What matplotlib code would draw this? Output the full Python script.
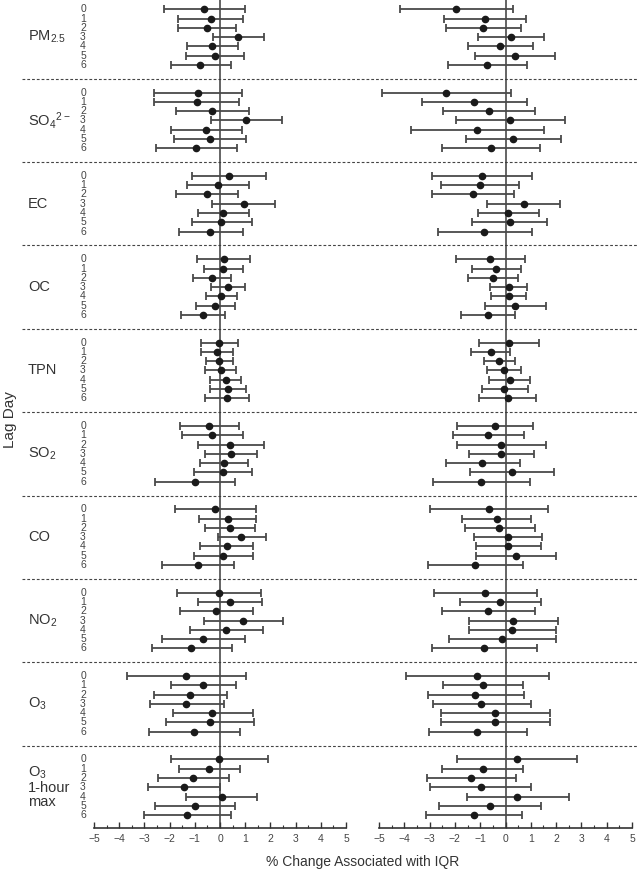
import matplotlib
matplotlib.use("Agg")
import numpy as np
import matplotlib.pyplot as plt
from matplotlib.transforms import blended_transform_factory
from matplotlib.ticker import MultipleLocator

plt.rcParams['font.family'] = ['Liberation Sans', 'DejaVu Sans']
plt.rcParams['mathtext.default'] = 'regular'

pollutants = [r'PM$_{2.5}$', r'SO$_4$$^{2-}$', 'EC', 'OC', 'TPN',
              r'SO$_2$', 'CO', r'NO$_2$', r'O$_3$', 'O$_3$\n1-hour\nmax']
lags = [0, 1, 2, 3, 4, 5, 6]

# left panel: estimate, lower, upper (one row per pollutant, lags 0..6)
left_est = [
    [-0.64, -0.37, -0.51, 0.71, -0.30, -0.21, -0.79],
    [-0.87, -0.92, -0.30, 1.05, -0.54, -0.41, -0.96],
    [0.37, -0.07, -0.52, 0.94, 0.10, 0.05, -0.38],
    [0.14, 0.13, -0.33, 0.30, 0.04, -0.18, -0.68],
    [-0.03, -0.12, -0.03, 0.03, 0.24, 0.31, 0.29],
    [-0.42, -0.31, 0.41, 0.42, 0.14, 0.10, -1.01],
    [-0.18, 0.30, 0.38, 0.85, 0.26, 0.12, -0.89],
    [-0.03, 0.38, -0.14, 0.93, 0.24, -0.67, -1.14],
    [-1.35, -0.66, -1.19, -1.33, -0.30, -0.41, -1.02],
    [-0.03, -0.42, -1.06, -1.43, 0.09, -0.98, -1.30],
]
left_lo = [
    [-2.24, -1.65, -1.65, -0.28, -1.31, -1.36, -1.94],
    [-2.60, -2.60, -1.73, -0.34, -1.93, -1.84, -2.53],
    [-1.12, -1.29, -1.73, -0.30, -0.89, -1.13, -1.64],
    [-0.92, -0.64, -1.08, -0.37, -0.56, -0.96, -1.55],
    [-0.76, -0.75, -0.55, -0.58, -0.39, -0.41, -0.59],
    [-1.57, -1.52, -0.89, -0.60, -0.81, -1.05, -2.57],
    [-1.78, -0.83, -0.60, -0.09, -0.79, -1.04, -2.32],
    [-1.69, -0.89, -1.57, -0.62, -1.21, -2.30, -2.70],
    [-3.71, -1.93, -2.62, -2.77, -1.88, -2.15, -2.82],
    [-1.93, -1.64, -2.45, -2.85, -1.33, -2.57, -3.00],
]
left_hi = [
    [0.98, 0.93, 0.63, 1.73, 0.72, 0.96, 0.42],
    [0.89, 0.76, 1.15, 2.47, 0.89, 1.05, 0.67],
    [1.84, 1.17, 0.70, 2.18, 1.14, 1.26, 0.91],
    [1.19, 0.92, 0.42, 1.00, 0.67, 0.59, 0.21],
    [0.72, 0.51, 0.51, 0.64, 0.85, 1.05, 1.15],
    [0.76, 0.93, 1.73, 1.46, 1.10, 1.27, 0.58],
    [1.43, 1.44, 1.39, 1.82, 1.30, 1.30, 0.56],
    [1.64, 1.67, 1.30, 2.49, 1.69, 0.98, 0.47],
    [1.02, 0.64, 0.26, 0.14, 1.30, 1.35, 0.79],
    [1.92, 0.81, 0.34, 0.00, 1.48, 0.59, 0.45],
]

# right panel
right_est = [
    [-1.95, -0.81, -0.88, 0.22, -0.21, 0.37, -0.73],
    [-2.37, -1.24, -0.65, 0.17, -1.12, 0.30, -0.59],
    [-0.93, -1.01, -1.28, 0.72, 0.10, 0.16, -0.84],
    [-0.60, -0.37, -0.50, 0.12, 0.12, 0.39, -0.71],
    [0.13, -0.58, -0.25, -0.07, 0.16, -0.04, 0.08],
    [-0.43, -0.68, -0.17, -0.16, -0.92, 0.25, -0.95],
    [-0.65, -0.35, -0.24, 0.10, 0.10, 0.42, -1.20],
    [-0.80, -0.21, -0.69, 0.31, 0.26, -0.12, -0.84],
    [-1.11, -0.88, -1.19, -0.95, -0.41, -0.42, -1.11],
    [0.44, -0.90, -1.35, -0.98, 0.47, -0.61, -1.24],
]
right_lo = [
    [-4.16, -2.42, -2.34, -1.07, -1.50, -1.20, -2.27],
    [-4.90, -3.32, -2.46, -1.97, -3.75, -1.57, -2.51],
    [-2.90, -2.56, -2.89, -0.72, -1.07, -1.32, -2.68],
    [-1.97, -1.32, -1.48, -0.63, -0.58, -0.81, -1.75],
    [-1.05, -1.35, -0.86, -0.73, -0.65, -0.94, -1.05],
    [-1.93, -2.09, -1.92, -1.44, -2.37, -1.40, -2.86],
    [-2.98, -1.70, -1.62, -1.23, -1.15, -1.15, -3.06],
    [-2.84, -1.78, -2.50, -1.44, -1.46, -2.22, -2.92],
    [-3.92, -2.46, -3.08, -2.88, -2.55, -2.55, -3.02],
    [-1.90, -2.50, -3.10, -2.97, -1.54, -2.62, -3.14],
]
right_hi = [
    [0.29, 0.80, 0.60, 1.52, 1.08, 1.95, 0.84],
    [0.22, 0.85, 1.15, 2.37, 1.52, 2.20, 1.35],
    [1.06, 0.55, 0.34, 2.17, 1.31, 1.63, 1.03],
    [0.78, 0.60, 0.48, 0.86, 0.82, 1.61, 0.37],
    [1.31, 0.18, 0.37, 0.63, 0.98, 0.90, 1.20],
    [1.10, 0.75, 1.59, 1.12, 0.58, 1.91, 0.97],
    [1.67, 1.02, 1.16, 1.44, 1.40, 2.00, 0.68],
    [1.25, 1.39, 1.16, 2.09, 1.99, 1.99, 1.25],
    [1.73, 0.71, 0.75, 0.99, 1.76, 1.74, 0.85],
    [2.81, 0.71, 0.42, 1.02, 2.50, 1.42, 0.66],
]

GROUP_STEP = 9
ink = '#333333'
bar_col = '#4a4a4a'

fig = plt.figure(figsize=(6.41, 8.75), dpi=100)
ax_l = fig.add_axes([94 / 641, 1 - 828 / 875, 252 / 641, 828 / 875])
ax_r = fig.add_axes([379 / 641, 1 - 828 / 875, 253 / 641, 828 / 875])

panels = [(ax_l, left_est, left_lo, left_hi), (ax_r, right_est, right_lo, right_hi)]
for ax, est, lo, hi in panels:
    ax.patch.set_visible(False)
    for g in range(len(pollutants)):
        y = np.array(lags) + g * GROUP_STEP
        e = np.array(est[g])
        err = [e - np.array(lo[g]), np.array(hi[g]) - e]
        ax.errorbar(e, y, xerr=err, fmt='o', color='#1a1a1a', ms=4.5,
                    ecolor=bar_col, elinewidth=1.3, capsize=3, capthick=1.3, zorder=3)
    ax.axvline(0, color='#3a3a3a', lw=1.1, zorder=2)
    ax.set_xlim(-5, 5)
    ax.set_ylim(88.4, -1)
    ax.set_xticks(range(-5, 6))
    ax.set_xticklabels([str(v).replace('-', '\u2212') for v in range(-5, 6)])
    ax.xaxis.set_minor_locator(MultipleLocator(0.5))
    ax.tick_params(axis='x', which='major', direction='in', length=4, width=1,
                   color=ink, labelsize=7.5, labelcolor='#444444', pad=4)
    ax.tick_params(axis='x', which='minor', direction='in', length=2.5, width=0.8, color=ink)
    ax.set_yticks([])
    for s in ['top', 'right', 'left']:
        ax.spines[s].set_visible(False)
    ax.spines['bottom'].set_color(ink)
    ax.spines['bottom'].set_linewidth(1.2)
    ax.spines['bottom'].set_bounds(-5, 5)

# dashed separators spanning both panels
trans = blended_transform_factory(fig.transFigure, ax_l.transData)
for g in range(1, len(pollutants)):
    ysep = g * GROUP_STEP - 1.5
    ax_l.plot([22 / 641, 637 / 641], [ysep, ysep], transform=trans, ls=(0, (2.5, 1.8)),
              color='#444444', lw=0.8, clip_on=False, zorder=1)

# group labels and lag numbers
for g, name in enumerate(pollutants):
    ax_l.text(28 / 641, g * GROUP_STEP + 3, name, transform=trans, ha='left',
              va='center', fontsize=10.5, color=ink, linespacing=1.0)
    for lag in lags:
        ax_l.text(83 / 641, g * GROUP_STEP + lag, str(lag), transform=trans,
                  ha='center', va='center', fontsize=7.5, color='#444444')

fig.text(10 / 641, 1 - 420 / 875, 'Lag Day', rotation=90, ha='center', va='center',
         fontsize=11, color=ink)
fig.text(363 / 641, 1 - 862 / 875, '% Change Associated with IQR', ha='center',
         va='center', fontsize=10, color=ink)

fig.savefig('out.png', dpi=100)
